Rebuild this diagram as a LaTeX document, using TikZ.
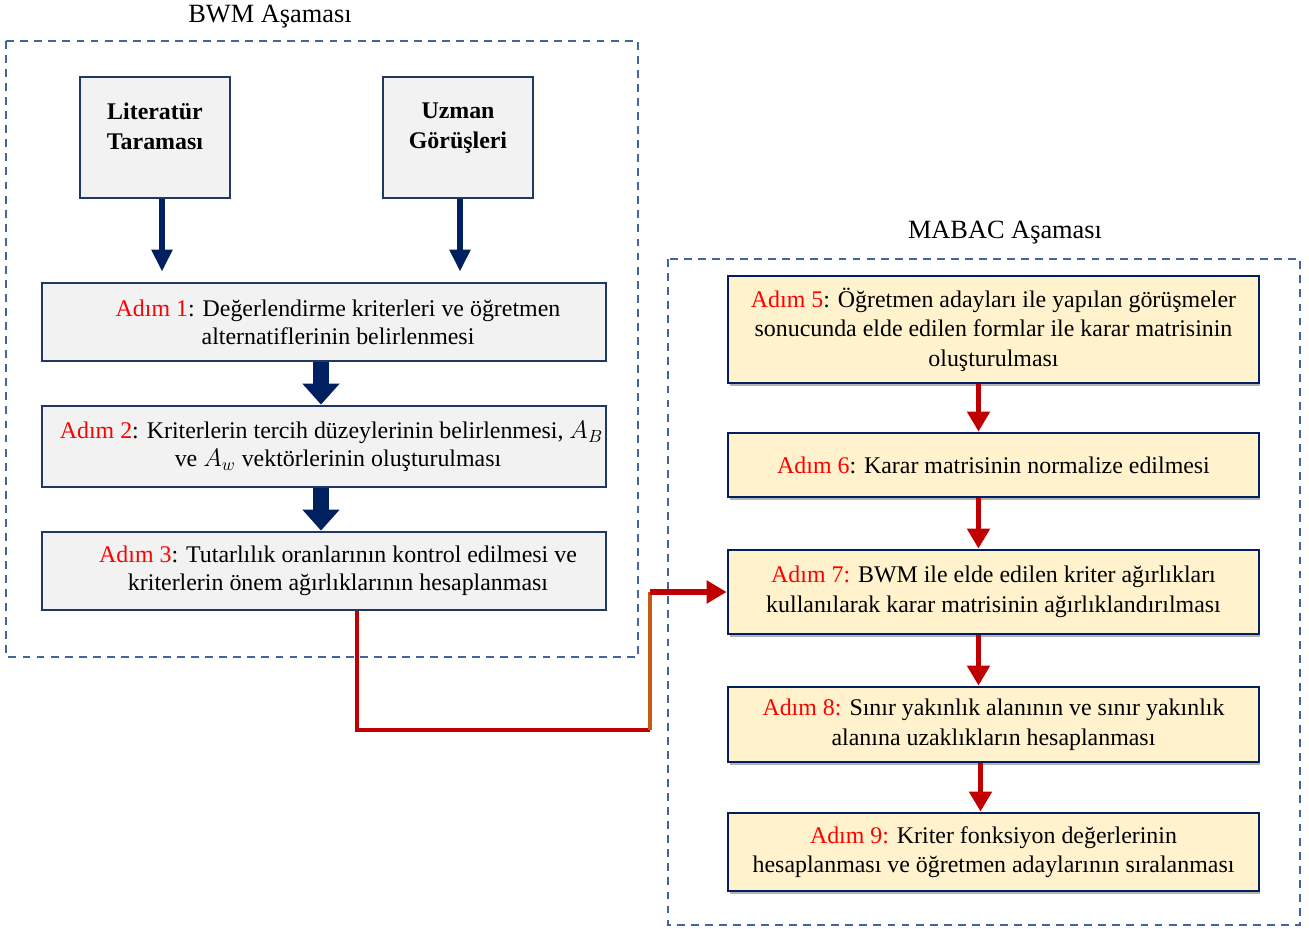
\documentclass[tikz,border=0pt]{standalone}
\usepackage{fontspec}
\setmainfont{Liberation Serif}
\usepackage{tikz}
\usetikzlibrary{arrows.meta,shadows}

\definecolor{navy}{HTML}{002060}
\definecolor{boxline}{HTML}{1F3864}
\definecolor{dashblue}{HTML}{41669E}
\definecolor{grayfill}{HTML}{F2F2F2}
\definecolor{creamfill}{HTML}{FFF2CC}
\definecolor{darkred}{HTML}{C00000}
\definecolor{burnt}{HTML}{C55A11}

\newcommand{\adim}[1]{\textcolor{red}{Adım #1}}
\newcommand{\nudge}{\hspace*{0.56cm}}

\tikzset{
  phase/.style={draw=dashblue, line width=0.9pt, dash pattern=on 4.5pt off 3.5pt},
  phasetitle/.style={font=\fontsize{15}{18}\selectfont},
  srcbox/.style={draw=boxline, fill=grayfill, line width=1.6pt, inner sep=0pt,
    font=\bfseries\fontsize{13.6}{17}\selectfont},
  bwmbox/.style={draw=boxline, fill=grayfill, line width=1.6pt, minimum width=11.28cm,
    inner xsep=0pt, align=center, font=\fontsize{13.6}{16}\selectfont},
  mabacbox/.style={draw=navy, fill=creamfill, line width=1.6pt, minimum width=10.62cm,
    align=center, font=\fontsize{13.6}{16.8}\selectfont,
    drop shadow={shadow xshift=0.03cm, shadow yshift=-0.06cm, fill=black, opacity=0.3}},
  thinarrow/.style={navy, line width=3.4pt, -{Triangle[width=0.4cm,length=0.44cm]}},
  fatarrow/.style={navy, line width=9pt, -{Triangle[width=0.72cm,length=0.42cm]}},
  redarrow/.style={darkred, line width=3.4pt, -{Triangle[width=0.44cm,length=0.4cm]}},
  linkline/.style={darkred, line width=2.8pt}
}

\begin{document}
\begin{tikzpicture}[x=0.02cm, y=-0.02cm]
\useasboundingbox (0,0) rectangle (1309,929);

% BWM part
\draw[phase] (6,41) rectangle (638,657);
\node[phasetitle] (bwmtitle) at (270,17) {BWM Aşaması};

\node[srcbox] (lit) at (155,137.5) {\parbox[c][2.42cm][t]{3cm}{\centering\vspace*{0.52cm}Literatür\\Taraması}};
\node[srcbox] (uzman) at (458,137.5) {\parbox[c][2.42cm][t]{3cm}{\centering\vspace*{0.52cm}Uzman\\Görüşleri}};

\node[bwmbox, minimum height=1.56cm] (s1) at (324,322)
  {\nudge\adim{1}: Değerlendirme kriterleri ve öğretmen\\\nudge alternatiflerinin belirlenmesi};
\node[bwmbox, minimum height=1.62cm] (s2) at (324,446.5)
  {\hspace*{0.3cm}\adim{2}: Kriterlerin tercih düzeylerinin belirlenmesi, $A_B$\\\nudge ve $A_w$ vektörlerinin oluşturulması};
\node[bwmbox, minimum height=1.56cm] (s3) at (324,571)
  {\nudge\adim{3}: Tutarlılık oranlarının kontrol edilmesi ve\\\nudge kriterlerin önem ağırlıklarının hesaplanması};

\draw[thinarrow, shorten >=0.2cm] ([xshift=0.14cm]lit.south) -- ([xshift=0.14cm]lit.south |- s1.north);
\draw[thinarrow, shorten >=0.2cm] ([xshift=0.04cm]uzman.south) -- ([xshift=0.04cm]uzman.south |- s1.north);
\draw[fatarrow] ([xshift=-0.06cm]s1.south) -- ([xshift=-0.06cm]s2.north);
\draw[fatarrow] ([xshift=-0.06cm]s2.south) -- ([xshift=-0.06cm]s3.north);

% MABAC part
\draw[phase] (668,259) rectangle (1300,925);
\node[phasetitle] (mabactitle) at (1005,233) {MABAC Aşaması};

\node[mabacbox, minimum height=2.14cm] (s5) at (993.5,329.5)
  {\adim{5}: Öğretmen adayları ile yapılan görüşmeler\\sonucunda elde edilen formlar ile karar matrisinin\\oluşturulması};
\node[mabacbox, minimum height=1.28cm] (s6) at (993.5,465)
  {\adim{6}: Karar matrisinin normalize edilmesi};
\node[mabacbox, minimum height=1.68cm] (s7) at (993.5,592)
  {\adim{7:} BWM ile elde edilen kriter ağırlıkları\\kullanılarak karar matrisinin ağırlıklandırılması};
\node[mabacbox, minimum height=1.5cm] (s8) at (993.5,724.5)
  {\adim{8:} Sınır yakınlık alanının ve sınır yakınlık\\alanına uzaklıkların hesaplanması};
\node[mabacbox, minimum height=1.56cm] (s9) at (993.5,852)
  {\adim{9:} Kriter fonksiyon değerlerinin\\hesaplanması ve öğretmen adaylarının sıralanması};

\draw[redarrow] ([xshift=-0.3cm]s5.south) -- ([xshift=-0.3cm]s6.north);
\draw[redarrow] ([xshift=-0.3cm]s6.south) -- ([xshift=-0.3cm]s7.north);
\draw[redarrow] ([xshift=-0.3cm]s7.south) -- ([xshift=-0.3cm]s8.north);
\draw[redarrow] ([xshift=-0.26cm]s8.south) -- ([xshift=-0.26cm]s9.north);

% link from Adim 3 to Adim 7
\coordinate (turn) at (650,730);
\draw[linkline] ([xshift=0.66cm]s3.south) |- (turn);
\draw[linkline, burnt] (turn) -- (turn |- s7.west);
\draw[redarrow] (turn |- s7.west) -- (s7.west);
\end{tikzpicture}
\end{document}
